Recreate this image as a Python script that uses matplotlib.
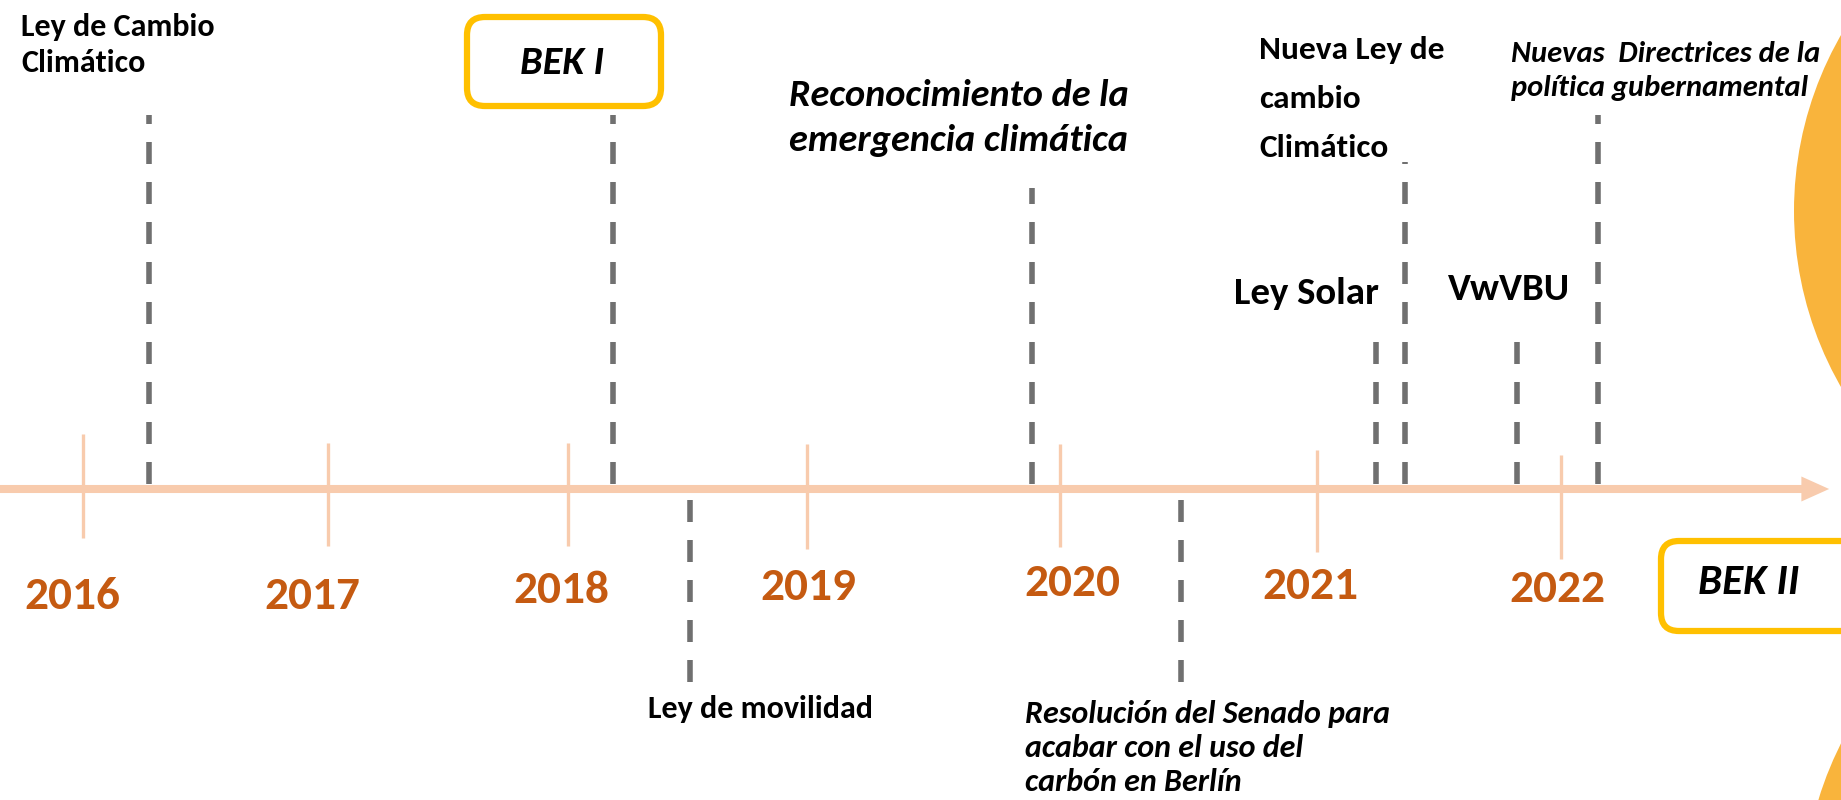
import numpy as np
import matplotlib
matplotlib.use("Agg")
import matplotlib.pyplot as plt
from matplotlib import font_manager
from matplotlib.patches import FancyBboxPatch, Circle, FancyArrowPatch, ArrowStyle
from matplotlib.transforms import offset_copy

# ---------------- fonts ----------------
available = {f.name for f in font_manager.fontManager.ttflist}
FONT = next((f for f in ["Carlito", "Liberation Sans Narrow", "Open Sans", "DejaVu Sans"]
             if f in available), "DejaVu Sans")
plt.rcParams["font.family"] = [FONT, "DejaVu Sans"]
NARROW = FONT in ("Carlito", "Liberation Sans Narrow")
FS = 1.0 if NARROW else 0.8

# ---------------- data ----------------
years = [2016, 2017, 2018, 2019, 2020, 2021, 2022]
year_labels = ["2016", "2017", "2018", "2019", "2020", "2021", "2022"]

event_labels = [
    "Ley de Cambio\nClimático",
    "BEK I",
    "Ley de movilidad",
    "Reconocimiento de la\nemergencia climática",
    "Resolución del Senado para\nacabar con el uso del\ncarbón en Berlín",
    "Ley Solar",
    "Nueva Ley de\ncambio\nClimático",
    "VwVBU",
    "Nuevas  Directrices de la\npolítica gubernamental",
]
event_dates = [2016.27, 2018.19, 2018.51, 2019.89, 2020.47, 2021.24, 2021.36, 2021.82, 2022.15]
event_side = ["above", "above", "below", "above", "below", "above", "above", "above", "above"]

final_label = "BEK II"

# ---------------- layout / style ----------------
W, H = 1841, 800
# pixel anchors of the (hand-drawn, slightly uneven) year scale
scale_years = [2015, 2016, 2017, 2018, 2019, 2020, 2021, 2022, 2023, 2024]
scale_px = [-163, 83, 328, 568, 807, 1060, 1317, 1561, 1807, 2053]
AXIS_Y = 489
AXIS_END = 2023.09
tick_top = [434, 443, 443, 444, 444, 450, 455]
tick_bot = [538, 546, 546, 549, 547, 552, 559]
year_label_dx = [-11, -16, -7, 1, 12, -7, -4]
year_label_y = [596, 596, 590, 587, 583, 586, 589]

line_end_px = [115, 115, 684, 188, 687, 340, 162, 340, 115]   # far end of each dashed line
label_pos = [(21, 45), (562, 63), (761, 709), (789, 118), (1025, 748),
             (1306, 293), (1259, 99), (1509, 290), (1511, 71)]
label_ha = ["left", "center", "center", "left", "left", "center", "left", "center", "left"]
label_size = [23, 29, 23, 27.5, 23, 28, 24, 28, 22]
label_weight = ["bold"] * 9
label_style = ["normal", "italic", "normal", "italic", "italic", "normal", "normal", "normal", "italic"]
label_spacing = [1.34, 1.0, 1.0, 1.42, 1.28, 1.0, 1.9, 1.0, 1.39]

AXIS_COLOR = "#F8CBAD"
YEAR_COLOR = "#C55A11"
DASH_COLOR = "#707070"
BOX_COLOR = "#FFC000"
SUN_COLOR = "#F9B43C"

fig = plt.figure(figsize=(W / 100, H / 100), dpi=100)

# decoration axes in pixel units
deco = fig.add_axes([0, 0, 1, 1])
deco.set_xlim(0, W)
deco.set_ylim(H, 0)
deco.axis("off")

# data axes: x in years (through the drawn year scale), y in pixels
ax = fig.add_axes([0, 0, 1, 1], zorder=2)
ax.patch.set_alpha(0)
fwd = lambda v: np.interp(v, scale_years, scale_px)
inv = lambda p: np.interp(p, scale_px, scale_years)
ax.set_xscale("function", functions=(fwd, inv))
ax.set_xlim(inv(0), inv(W))
ax.set_ylim(H, 0)
ax.axis("off")

# background sun shapes
deco.add_patch(Circle((2147, 211), 353, color=SUN_COLOR, lw=0, zorder=0))
deco.add_patch(Circle((2157, 903), 354, color=SUN_COLOR, lw=0, zorder=0))

# boxes for BEK I and BEK II
for (x0, y0, x1, y1) in [(467, 17, 661, 106), (1661, 541, 1860, 631)]:
    deco.add_patch(FancyBboxPatch((x0, y0), x1 - x0, y1 - y0,
                                  boxstyle="round,pad=0,rounding_size=18",
                                  fc="white", ec=BOX_COLOR, lw=4.5, zorder=1))

# main time axis with arrow
arrow = FancyArrowPatch((ax.get_xlim()[0], AXIS_Y), (AXIS_END, AXIS_Y),
                        arrowstyle=ArrowStyle.Simple(head_length=20, head_width=18, tail_width=5.8),
                        mutation_scale=1, shrinkA=0, shrinkB=0,
                        color=AXIS_COLOR, lw=0, zorder=3)
ax.add_patch(arrow)

# year ticks and labels
ax.vlines(years, tick_top, tick_bot, color=AXIS_COLOR, lw=2.4, zorder=3)
for yr, lab, dx, ly in zip(years, year_labels, year_label_dx, year_label_y):
    ax.text(yr, ly, lab, ha="center", va="center", fontsize=34 * FS,
            fontweight="bold", color=YEAR_COLOR, zorder=4,
            transform=offset_copy(ax.transData, fig=fig, x=dx, y=0, units="dots"))

# event dashed lines
for d, side, end in zip(event_dates, event_side, line_end_px):
    start = AXIS_Y - 5 if side == "above" else AXIS_Y + 11
    ax.plot([d, d], [start, end], color=DASH_COLOR, lw=4.0,
            dashes=(3.96, 3.24), solid_capstyle="butt", dash_capstyle="butt", zorder=4)

# event labels
for lab, (x, y), ha, fs, fw, st, ls in zip(event_labels, label_pos, label_ha, label_size,
                                           label_weight, label_style, label_spacing):
    deco.text(x, y, lab, ha=ha, va="center", fontsize=fs * FS, fontweight=fw,
              fontstyle=st, linespacing=ls, color="black", zorder=5)

deco.text(1749, 583, final_label, ha="center", va="center", fontsize=31 * FS,
          fontweight="bold", fontstyle="italic", color="black", zorder=5)

fig.savefig("out.png", dpi=100, facecolor="white")
